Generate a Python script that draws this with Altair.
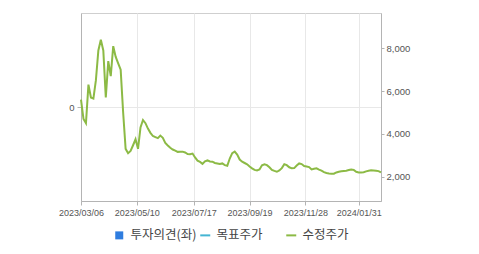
import altair as alt
import pandas as pd

# 수정주가 (adjusted price), sampled every 2 trading days from 2023/03/06
price = [
    5600, 4700, 4500, 6300, 5700, 5650, 6500, 7900, 8400, 7900,
    5700, 7400, 6700, 8100, 7600, 7300, 7000, 5000, 3300, 3100,
    3200, 3470, 3750, 3300, 4300, 4650, 4500, 4250, 4050, 3900,
    3850, 3800, 3920, 3820, 3580, 3460, 3350, 3270, 3220, 3160,
    3170, 3170, 3130, 3060, 3050, 3080, 2900, 2750, 2690, 2600,
    2720, 2760, 2710, 2700, 2640, 2620, 2590, 2620, 2540, 2510,
    2850, 3100, 3170, 3030, 2800, 2700, 2640, 2580, 2480, 2390,
    2320, 2290, 2340, 2530, 2580, 2540, 2440, 2320, 2270, 2230,
    2290, 2400, 2580, 2540, 2440, 2390, 2400, 2520, 2620, 2590,
    2500, 2480, 2450, 2340, 2370, 2390, 2330, 2280, 2210, 2170,
    2150, 2140, 2140, 2200, 2230, 2250, 2270, 2280, 2310, 2340,
    2320, 2230, 2200, 2200, 2210, 2250, 2280, 2300, 2290, 2280,
    2260, 2200,
]
idx = [2 * k for k in range(len(price))]  # trading-day index

series_names = ["투자의견(좌)", "목표주가", "수정주가"]
series_colors = ["#2f7ddf", "#45b5d3", "#8cba45"]
SQUARE = "M-0.8,-0.8L0.8,-0.8L0.8,0.8L-0.8,0.8Z"
DASH = "M-1,-0.2L1,-0.2L1,0.2L-1,0.2Z"
series_shapes = [SQUARE, DASH, DASH]

tick_idx = [0, 45, 91, 136, 181, 224]
tick_labels = ["2023/03/06", "2023/05/10", "2023/07/17", "2023/09/19", "2023/11/28", "2024/01/31"]
price_ticks = [2000, 4000, 6000, 8000]
opinion_ticks = [0]
opinion_idx = []      # no 투자의견 data
opinion_values = []

df = pd.DataFrame({"idx": idx, "price": price, "series": "수정주가"})
op_df = pd.DataFrame({"idx": pd.Series(opinion_idx, dtype=float),
                      "opinion": pd.Series(opinion_values, dtype=float)})

label_expr = ("[" + ",".join(f"'{t}'" for t in tick_labels) + "][indexof(["
              + ",".join(str(v) for v in tick_idx) + "], datum.value)]")

FONT = "Liberation Sans"
AX = dict(labelFont=FONT, labelColor="#555555",
          domainColor="#b4b4b4", tickColor="#b4b4b4", title=None)

x_enc = alt.X("idx:Q",
              scale=alt.Scale(domain=[0, 242], nice=False, zero=False),
              axis=alt.Axis(values=tick_idx, labelExpr=label_expr, grid=True,
                            gridColor="#e8e8e8", tickSize=4, labelPadding=3,
                            labelFlush=False, labelFontSize=9, **AX))
price_scale = alt.Scale(domain=[864, 9650], nice=False, zero=False)

legend = alt.Legend(
    title=None, orient="none", legendX=32, legendY=216, direction="horizontal",
    columns=3, gridAlign="all", columnPadding=2,
    symbolSize=100, symbolStrokeWidth=0, symbolOpacity=1,
    labelFont="Noto Sans CJK KR", labelFontSize=12.5, labelColor="#444444",
    labelOffset=5, padding=0,
)

opinion = alt.Chart(op_df).mark_point(color="#2f7ddf").encode(
    x=x_enc,
    y=alt.Y("opinion:Q",
            scale=alt.Scale(domain=[-1, 1], nice=False, zero=False),
            axis=alt.Axis(orient="left", values=opinion_ticks, grid=True,
                          gridColor="#e8e8e8", tickSize=4, labelPadding=3,
                          labelFontSize=9.5, **AX)),
)

line = alt.Chart(df).mark_line(strokeWidth=2, color=series_colors[2]).encode(
    x=x_enc,
    y=alt.Y("price:Q", scale=price_scale,
            axis=alt.Axis(orient="right", values=price_ticks, format=",d", grid=False,
                          tickSize=3, labelPadding=2, labelFontSize=9.5, **AX)),
)

legend_layer = alt.Chart(df).mark_point(filled=True, opacity=0).encode(
    x=x_enc,
    y=alt.Y("price:Q", scale=price_scale, axis=None),
    color=alt.Color("series:N",
                    scale=alt.Scale(domain=series_names, range=series_colors),
                    legend=legend),
    shape=alt.Shape("series:N",
                    scale=alt.Scale(domain=series_names, range=series_shapes),
                    legend=legend),
)

chart = alt.layer(opinion, line, legend_layer).resolve_scale(y="independent").properties(
    width=300, height=188,
    padding={"left": 81, "top": 13, "right": 98, "bottom": 53},
    autosize=alt.AutoSizeParams(type="none"),
).configure_view(stroke="#cfcfcf")

chart.save("out.html", embed_options={"renderer": "svg", "actions": False})
